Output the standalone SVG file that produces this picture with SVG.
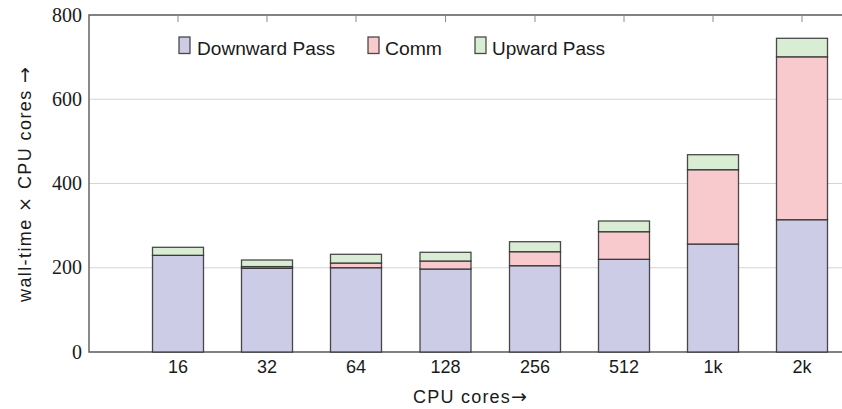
<svg xmlns="http://www.w3.org/2000/svg" width="842" height="409" viewBox="0 0 842 409">
  <style>
    .sans { font-family: "Liberation Sans", Arial, sans-serif; fill: #1a1a1a; }
    .serif { font-family: "Liberation Serif", "Times New Roman", serif; fill: #1a1a1a; }
    .sym { font-family: "DejaVu Sans", sans-serif; }
    .grid { stroke: #d4d4d4; stroke-width: 1.2; }
    .axis { stroke: #5a5a5a; stroke-width: 1.4; fill: none; }
    .tick { stroke: #8a8a8a; stroke-width: 1; }
    .seg { stroke: #2b2b2b; stroke-opacity: 0.85; stroke-width: 1.3; }
    .down { fill: #cdcce7; }
    .comm { fill: #f8cace; }
    .up { fill: #d9ecd4; }
  </style>

  <rect width="842" height="409" fill="#ffffff"/>

  <!-- horizontal grid -->
  <g id="grid">
    <line class="grid" x1="89" y1="267.75" x2="842" y2="267.75"/>
    <line class="grid" x1="89" y1="183.5" x2="842" y2="183.5"/>
    <line class="grid" x1="89" y1="99.25" x2="842" y2="99.25"/>
  </g>

  <!-- frame and top ticks -->
  <g id="axes">
    <polyline class="axis" points="842,15 89,15 89,352 842,352"/>
    <line class="tick" x1="178" y1="15" x2="178" y2="22"/>
    <line class="tick" x1="267" y1="15" x2="267" y2="22"/>
    <line class="tick" x1="356" y1="15" x2="356" y2="22"/>
    <line class="tick" x1="445.5" y1="15" x2="445.5" y2="22"/>
    <line class="tick" x1="535" y1="15" x2="535" y2="22"/>
    <line class="tick" x1="624" y1="15" x2="624" y2="22"/>
    <line class="tick" x1="713" y1="15" x2="713" y2="22"/>
    <line class="tick" x1="802" y1="15" x2="802" y2="22"/>
  </g>

  <!-- y tick labels -->
  <g id="ylabels" class="serif" font-size="20" text-anchor="end">
    <text x="82" y="21.7">800</text>
    <text x="82" y="105.9">600</text>
    <text x="82" y="190.2">400</text>
    <text x="82" y="274.4">200</text>
    <text x="82" y="358.7">0</text>
  </g>

  <!-- stacked bars: downward pass, comm, upward pass -->
  <g id="bar-16">
    <rect class="seg down" x="152.5" y="255.3" width="51" height="96.7"/>
    <rect class="seg up" x="152.5" y="247.3" width="51" height="8"/>
  </g>
  <g id="bar-32">
    <rect class="seg down" x="241.5" y="268.3" width="51" height="83.7"/>
    <rect class="seg comm" x="241.5" y="266.6" width="51" height="1.7"/>
    <rect class="seg up" x="241.5" y="260" width="51" height="6.6"/>
  </g>
  <g id="bar-64">
    <rect class="seg down" x="330.5" y="267.7" width="51" height="84.3"/>
    <rect class="seg comm" x="330.5" y="263" width="51" height="4.7"/>
    <rect class="seg up" x="330.5" y="254.3" width="51" height="8.7"/>
  </g>
  <g id="bar-128">
    <rect class="seg down" x="420" y="269" width="51" height="83"/>
    <rect class="seg comm" x="420" y="261" width="51" height="8"/>
    <rect class="seg up" x="420" y="252.3" width="51" height="8.7"/>
  </g>
  <g id="bar-256">
    <rect class="seg down" x="509.5" y="265.7" width="51" height="86.3"/>
    <rect class="seg comm" x="509.5" y="251.7" width="51" height="14"/>
    <rect class="seg up" x="509.5" y="241.7" width="51" height="10"/>
  </g>
  <g id="bar-512">
    <rect class="seg down" x="598.5" y="259.3" width="51" height="92.7"/>
    <rect class="seg comm" x="598.5" y="231.7" width="51" height="27.6"/>
    <rect class="seg up" x="598.5" y="221" width="51" height="10.7"/>
  </g>
  <g id="bar-1k">
    <rect class="seg down" x="687.5" y="244" width="51" height="108"/>
    <rect class="seg comm" x="687.5" y="169.7" width="51" height="74.3"/>
    <rect class="seg up" x="687.5" y="154.7" width="51" height="15"/>
  </g>
  <g id="bar-2k">
    <rect class="seg down" x="776.5" y="219.7" width="51" height="132.3"/>
    <rect class="seg comm" x="776.5" y="56.8" width="51" height="162.9"/>
    <rect class="seg up" x="776.5" y="38.3" width="51" height="18.5"/>
  </g>

  <!-- x tick labels -->
  <g id="xlabels" class="sans" font-size="18" text-anchor="middle">
    <text x="178" y="373">16</text>
    <text x="267" y="373">32</text>
    <text x="356" y="373">64</text>
    <text x="445.5" y="373">128</text>
    <text x="535" y="373">256</text>
    <text x="624" y="373">512</text>
    <text x="713" y="373">1k</text>
    <text x="802" y="373">2k</text>
  </g>

  <!-- axis titles -->
  <text id="xtitle" class="sans" font-size="18" x="413" y="403" textLength="114" lengthAdjust="spacing">CPU cores<tspan class="sym" font-size="19">→</tspan></text>
  <text id="ytitle" class="sans" font-size="18" transform="translate(31,302) rotate(-90)" textLength="235" lengthAdjust="spacing">wall-time <tspan class="sym">×</tspan> CPU cores <tspan class="sym" font-size="19">→</tspan></text>

  <!-- legend -->
  <g id="legend" class="sans" font-size="18">
    <rect class="seg down" x="179" y="37" width="11" height="16.5"/>
    <text x="197" y="54.5" textLength="138" lengthAdjust="spacingAndGlyphs">Downward Pass</text>
    <rect class="seg comm" x="368" y="37" width="11" height="16.5"/>
    <text x="385" y="54.5" textLength="57" lengthAdjust="spacingAndGlyphs">Comm</text>
    <rect class="seg up" x="475" y="37" width="11" height="16.5"/>
    <text x="492" y="54.5" textLength="113" lengthAdjust="spacingAndGlyphs">Upward Pass</text>
  </g>
</svg>
